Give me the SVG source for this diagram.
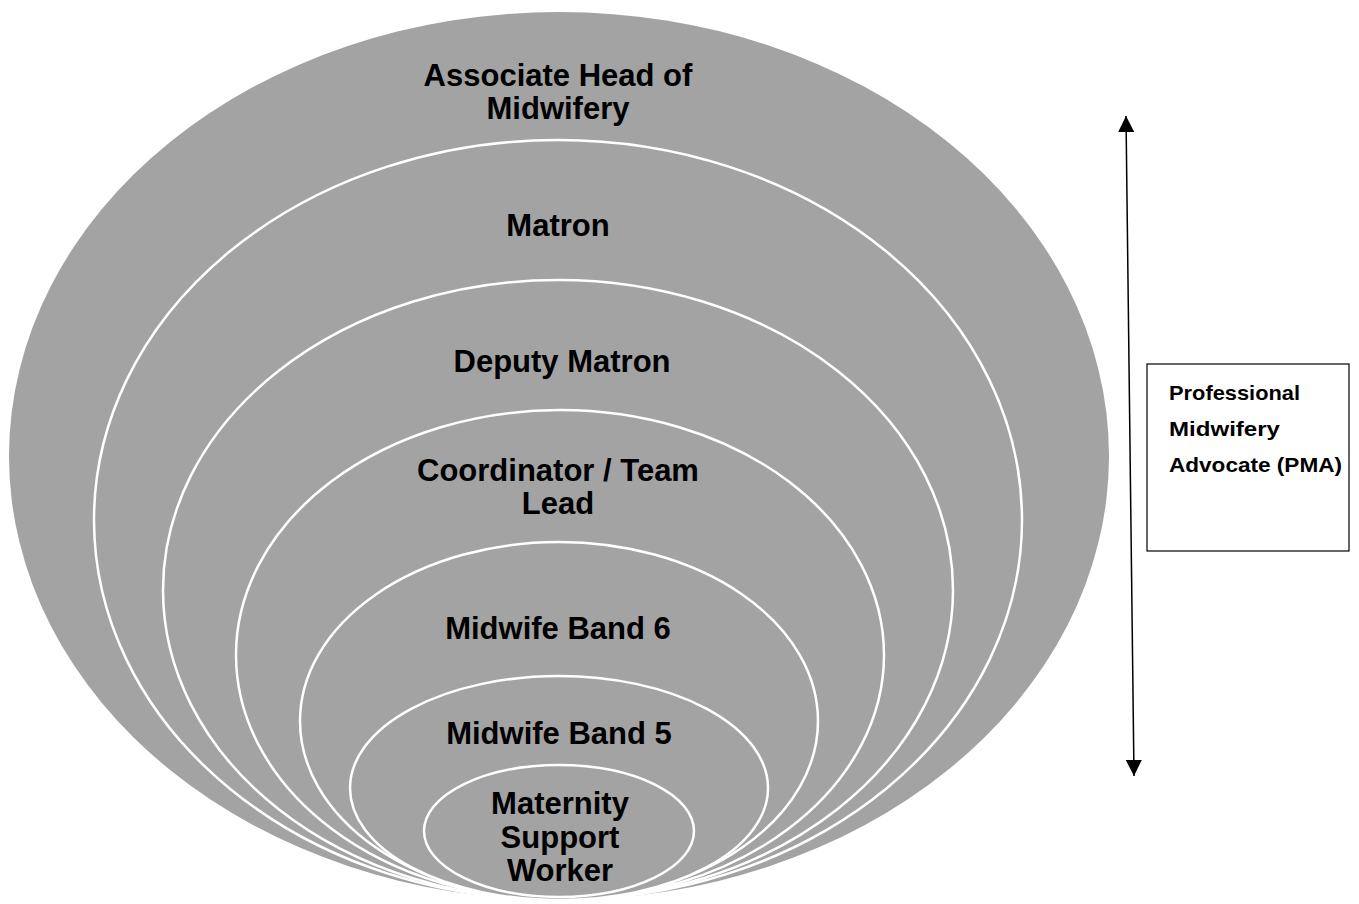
<svg xmlns="http://www.w3.org/2000/svg" width="1359" height="904" viewBox="0 0 1359 904">
<style>
.lvl{fill:#a3a3a3;stroke:#ffffff;stroke-width:2.5}
.outer{fill:#a3a3a3;stroke:none}
.t{font-family:"Liberation Sans",Arial,sans-serif;font-weight:bold;font-size:31px;fill:#000;text-anchor:middle}
.p{font-family:"Liberation Sans",Arial,sans-serif;font-weight:bold;font-size:21px;fill:#000}
</style>
<defs>
<marker id="ah2" viewBox="0 0 10 10" refX="10" refY="5" markerWidth="18" markerHeight="16" markerUnits="userSpaceOnUse" orient="auto-start-reverse">
<path d="M0,0 L10,5 L0,10 Z" fill="#000"/>
</marker>
</defs>
<g id="n-associate"><ellipse class="outer" cx="559" cy="456" rx="550" ry="444"/><text class="t" x="558" y="86">Associate Head of</text><text class="t" x="558" y="119">Midwifery</text></g>
<g id="n-matron"><ellipse class="lvl" cx="558" cy="520" rx="464" ry="380"/><text class="t" x="558" y="236">Matron</text></g>
<g id="n-deputy"><ellipse class="lvl" cx="558" cy="590" rx="395" ry="310"/><text class="t" x="562" y="372">Deputy Matron</text></g>
<g id="n-coord"><ellipse class="lvl" cx="560" cy="655" rx="324" ry="245"/><text class="t" x="558" y="481">Coordinator / Team</text><text class="t" x="558" y="514">Lead</text></g>
<g id="n-band6"><ellipse class="lvl" cx="559" cy="721" rx="259" ry="179"/><text class="t" x="558" y="639">Midwife Band 6</text></g>
<g id="n-band5"><ellipse class="lvl" cx="559" cy="788" rx="209" ry="112"/><text class="t" x="559" y="744">Midwife Band 5</text></g>
<g id="n-msw"><ellipse class="lvl" cx="559" cy="831" rx="135" ry="66"/><text class="t" x="560" y="814">Maternity</text><text class="t" x="560" y="848">Support</text><text class="t" x="560" y="881">Worker</text></g>
<g id="n-pma"><rect x="1147" y="364" width="202" height="187" fill="#fff" stroke="#000" stroke-width="1.2"/><text class="p" x="1169" y="400" textLength="131" lengthAdjust="spacingAndGlyphs">Professional</text><text class="p" x="1169" y="436" textLength="111" lengthAdjust="spacingAndGlyphs">Midwifery</text><text class="p" x="1169" y="472" textLength="173" lengthAdjust="spacingAndGlyphs">Advocate (PMA)</text></g>
<g id="connectors"><line x1="1126" y1="116" x2="1134" y2="776" stroke="#000" stroke-width="1.5" marker-start="url(#ah2)" marker-end="url(#ah2)"/></g>
</svg>
